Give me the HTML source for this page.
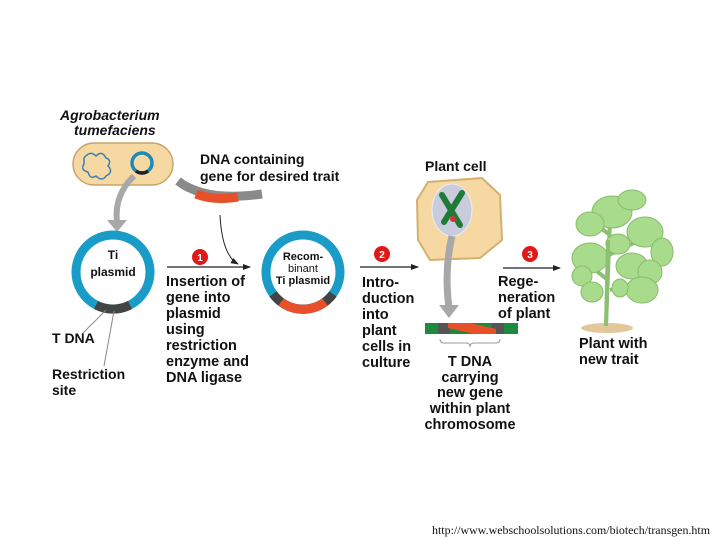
<!DOCTYPE html>
<html><head><meta charset="utf-8"><style>
html,body{margin:0;padding:0;background:#fff}
svg{display:block}
text{font-family:"Liberation Sans",Arial,sans-serif;font-weight:bold;fill:#111}
</style></head><body>
<svg width="720" height="540" viewBox="0 0 720 540" xmlns="http://www.w3.org/2000/svg">
<defs>
<marker id="ah" markerWidth="8" markerHeight="8" refX="7" refY="4" orient="auto" markerUnits="userSpaceOnUse"><path d="M0,1 L8,4 L0,7 Z" fill="#222"/></marker>
</defs>
<!-- Agrobacterium -->
<text x="60" y="120" font-size="14" font-style="italic">Agrobacterium</text>
<text x="74" y="135" font-size="14" font-style="italic">tumefaciens</text>
<rect x="73" y="143" width="100" height="42" rx="21" fill="#f6d9a2" stroke="#c9a468" stroke-width="1.5"/>
<path d="M84,158 q6,-8 12,-2 q6,-6 10,2 q6,2 2,8 q6,6 -2,10 q-4,6 -10,0 q-6,4 -8,-4 q-8,-2 -4,-8 z" fill="none" stroke="#3a7fb0" stroke-width="1.5"/>
<circle cx="142" cy="163" r="10" fill="#f6d9a2" stroke="#1a8ab8" stroke-width="3.5"/>
<path d="M136,171 a10,10 0 0 0 12,0" fill="none" stroke="#222" stroke-width="3.5"/>
<!-- gray arrow 1 -->
<path d="M134,176 Q114,195 117,222" fill="none" stroke="#a8a8a8" stroke-width="6"/>
<path d="M107,220 L127,220 L117,232 Z" fill="#a8a8a8"/>
<!-- Ti plasmid -->
<circle cx="113" cy="272" r="37" fill="#fff" stroke="#1a9cc8" stroke-width="9"/>
<path d="M96,305 A37,37 0 0 0 130,305" fill="none" stroke="#444" stroke-width="9"/>
<text x="113" y="259" font-size="12" text-anchor="middle">Ti</text>
<text x="113" y="276" font-size="12" text-anchor="middle">plasmid</text>
<line x1="106" y1="310" x2="82" y2="334" stroke="#888" stroke-width="1"/>
<line x1="114" y1="311" x2="104" y2="366" stroke="#888" stroke-width="1"/>
<text x="52" y="343" font-size="14">T DNA</text>
<text x="52" y="379" font-size="14">Restriction</text>
<text x="52" y="395" font-size="14">site</text>
<!-- DNA piece -->
<text x="200" y="164" font-size="14">DNA containing</text>
<text x="200" y="181" font-size="14">gene for desired trait</text>
<path d="M178,181 Q205,202 262,194" fill="none" stroke="#8a8a8a" stroke-width="9"/>
<path d="M196,194 Q214,201 238,197" fill="none" stroke="#e8502a" stroke-width="9"/>
<path d="M220,215 Q222,255 238,264" fill="none" stroke="#222" stroke-width="1" marker-end="url(#ah)"/>
<!-- step 1 -->
<circle cx="200" cy="257" r="8" fill="#e01818"/>
<text x="200" y="261" font-size="10" text-anchor="middle" style="fill:#fff">1</text>
<line x1="167" y1="267" x2="250" y2="267" stroke="#222" stroke-width="1.2" marker-end="url(#ah)"/>
<g font-size="14.5">
<text x="166" y="286">Insertion of</text>
<text x="166" y="302">gene into</text>
<text x="166" y="318">plasmid</text>
<text x="166" y="334">using</text>
<text x="166" y="350">restriction</text>
<text x="166" y="366">enzyme and</text>
<text x="166" y="382">DNA ligase</text>
</g>
<!-- recombinant -->
<circle cx="303" cy="272" r="37" fill="#fff" stroke="#1a9cc8" stroke-width="9"/>
<path d="M273,294 A37,37 0 0 0 333,294" fill="none" stroke="#444" stroke-width="9"/>
<path d="M281,302 A37,37 0 0 0 325,302" fill="none" stroke="#e8502a" stroke-width="9"/>
<text x="303" y="260" font-size="11" text-anchor="middle">Recom-</text>
<text x="303" y="272" font-size="11" text-anchor="middle" style="font-weight:normal">binant</text>
<text x="303" y="284" font-size="11" text-anchor="middle">Ti plasmid</text>
<!-- step 2 -->
<circle cx="382" cy="254" r="8" fill="#e01818"/>
<text x="382" y="258" font-size="10" text-anchor="middle" style="fill:#fff">2</text>
<line x1="360" y1="267" x2="418" y2="267" stroke="#222" stroke-width="1.2" marker-end="url(#ah)"/>
<g font-size="14.5">
<text x="362" y="287">Intro-</text>
<text x="362" y="303">duction</text>
<text x="362" y="319">into</text>
<text x="362" y="335">plant</text>
<text x="362" y="351">cells in</text>
<text x="362" y="367">culture</text>
</g>
<!-- plant cell -->
<text x="425" y="171" font-size="14">Plant cell</text>
<path d="M428,182 L482,178 L500,195 L502,240 L480,258 L430,260 L418,240 L417,200 Z" fill="#f6d9a2" stroke="#d4b070" stroke-width="2"/>
<ellipse cx="452" cy="210" rx="20" ry="26" fill="#c8ccdc" stroke="#eee" stroke-width="1"/>
<path d="M442,195 L460,225 M462,193 L444,222" stroke="#1e7a36" stroke-width="6" stroke-linecap="round"/>
<circle cx="453" cy="219" r="3" fill="#e03030"/>
<path d="M452,236 Q444,270 449,308" fill="none" stroke="#a8a8a8" stroke-width="7"/>
<path d="M439,305 L459,305 L449,318 Z" fill="#a8a8a8"/>
<rect x="425" y="323" width="93" height="11" fill="#1e8a3e"/>
<rect x="438" y="323" width="12" height="11" fill="#555"/>
<rect x="492" y="323" width="12" height="11" fill="#555"/>
<path d="M448,323 L470,323 L496,329 L496,334 L474,334 L448,328 Z" fill="#e8502a"/>
<path d="M440,339 q0,4 4,4 L466,343 q4,0 4,4 q0,-4 4,-4 L496,343 q4,0 4,-4" fill="none" stroke="#999" stroke-width="1"/>
<g font-size="14.5" text-anchor="middle">
<text x="470" y="366">T DNA</text>
<text x="470" y="382">carrying</text>
<text x="470" y="397">new gene</text>
<text x="470" y="413">within plant</text>
<text x="470" y="429">chromosome</text>
</g>
<!-- step 3 -->
<circle cx="530" cy="254" r="8" fill="#e01818"/>
<text x="530" y="258" font-size="10" text-anchor="middle" style="fill:#fff">3</text>
<line x1="503" y1="268" x2="560" y2="268" stroke="#222" stroke-width="1.2" marker-end="url(#ah)"/>
<g font-size="14.5">
<text x="498" y="286">Rege-</text>
<text x="498" y="302">neration</text>
<text x="498" y="318">of plant</text>
</g>
<!-- plant -->
<ellipse cx="607" cy="328" rx="26" ry="5" fill="#e2c898"/>
<path d="M606,326 L610,220 M608,280 L585,262 M609,255 L640,240 M610,290 L640,282 M610,235 L590,220" stroke="#8cc070" stroke-width="4" fill="none"/>
<g fill="#a8dc8c" stroke="#86bc6c" stroke-width="1">
<ellipse cx="612" cy="212" rx="20" ry="16"/>
<ellipse cx="632" cy="200" rx="14" ry="10"/>
<ellipse cx="590" cy="224" rx="14" ry="12"/>
<ellipse cx="645" cy="232" rx="18" ry="15"/>
<ellipse cx="662" cy="252" rx="11" ry="14"/>
<ellipse cx="590" cy="258" rx="18" ry="15"/>
<ellipse cx="582" cy="276" rx="10" ry="10"/>
<ellipse cx="632" cy="266" rx="16" ry="13"/>
<ellipse cx="650" cy="272" rx="12" ry="12"/>
<ellipse cx="642" cy="290" rx="16" ry="13"/>
<ellipse cx="592" cy="292" rx="11" ry="10"/>
<ellipse cx="618" cy="244" rx="12" ry="10"/>
<ellipse cx="620" cy="288" rx="8" ry="9"/>
</g>
<path d="M606,326 L608,240" stroke="#8cc070" stroke-width="4"/>
<text x="579" y="348" font-size="14.5">Plant with</text>
<text x="579" y="364" font-size="14.5">new trait</text>
<text x="432" y="534" font-size="12" style="font-family:'Liberation Serif',serif;font-weight:normal" textLength="278" lengthAdjust="spacingAndGlyphs">http://www.webschoolsolutions.com/biotech/transgen.htm</text>
</svg>
</body></html>
